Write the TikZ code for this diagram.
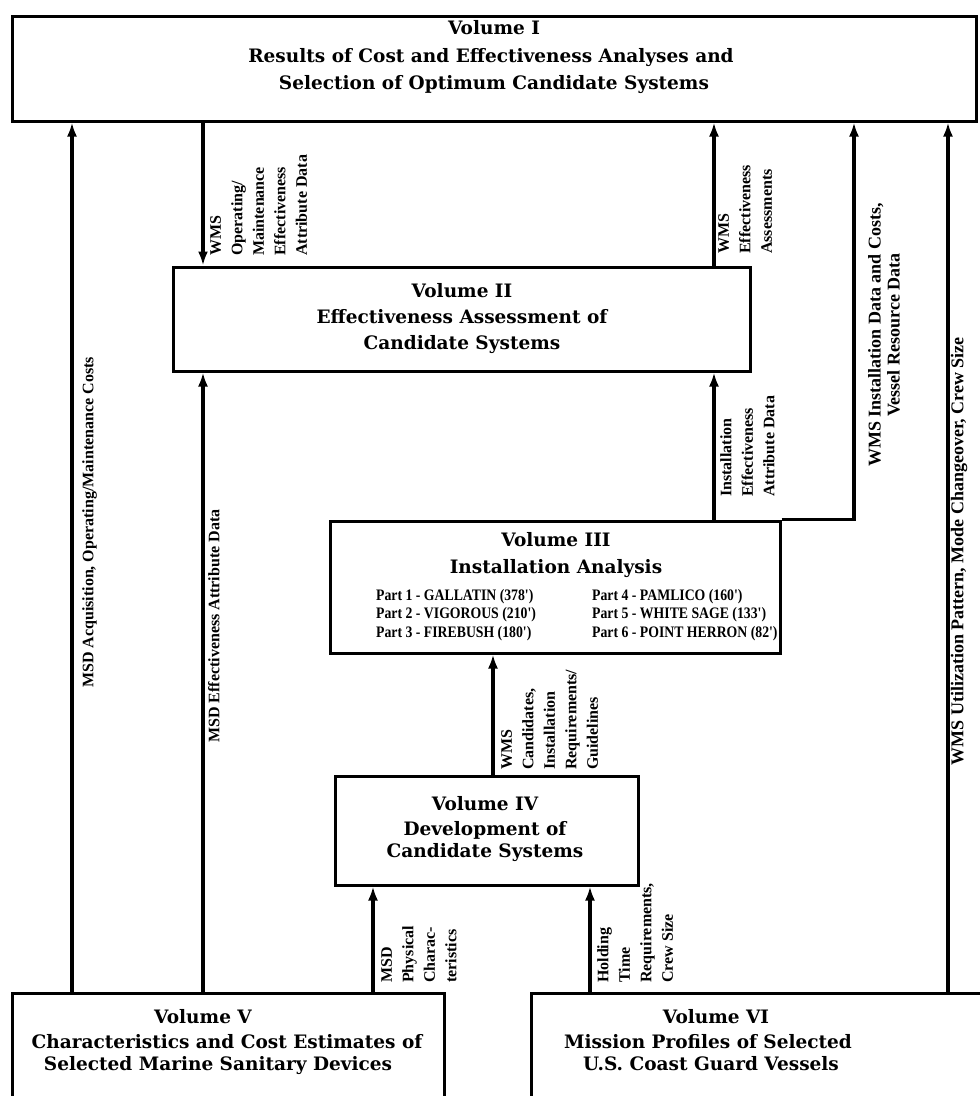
\documentclass[tikz,border=0pt]{standalone}
\usepackage{fontspec}
\setmainfont{DejaVu Serif}
\newfontfamily\labfont{Liberation Serif}
\newfontfamily\partfont{Liberation Serif}[FakeStretch=0.86]
\usetikzlibrary{arrows.meta}
\begin{document}
\begin{tikzpicture}[x=1pt,y=-1pt,
  box/.style={draw, line width=3pt, inner sep=0pt},
  title/.style={font=\bfseries\fontsize{18.5}{20}\selectfont, inner sep=0pt, anchor=base},
  flow/.style={line width=3.6pt, -{Latex[length=14pt,width=10pt]}},
  lab/.style={font=\labfont\bfseries\fontsize{16}{21.5}\selectfont, rotate=90, align=left, anchor=north west, inner sep=0pt},
  labc/.style={font=\labfont\bfseries\fontsize{18}{19}\selectfont, rotate=90, align=center, anchor=center, inner sep=0pt},
  part/.style={font=\partfont\bfseries\fontsize{16}{18}\selectfont, anchor=base west, inner sep=0pt}]
\useasboundingbox (0,0) rectangle (980,1096);
\clip (0,0) rectangle (980,1096);

% boxes
\node[box, minimum width=964pt, minimum height=105pt] (v1) at (494,68.5) {};
\node[box, minimum width=577pt, minimum height=104pt] (v2) at (461.5,319) {};
\node[box, minimum width=450pt, minimum height=132pt] (v3) at (555,587) {};
\node[box, minimum width=303pt, minimum height=109pt] (v4) at (486.5,830.5) {};
\node[box, minimum width=432pt, minimum height=127pt] (v5) at (228,1056.5) {};
\node[box, minimum width=469pt, minimum height=127pt] (v6) at (765.5,1056.5) {};

% texts
\node[title] (t1a) at (494,34) {Volume I};
\node[title] (t1b) at (491,62) {Results of Cost and Effectiveness Analyses and};
\node[title] (t1c) at (494,89) {Selection of Optimum Candidate Systems};

\node[title] (t2a) at (462,297) {Volume II};
\node[title] (t2b) at (462,323) {Effectiveness Assessment of};
\node[title] (t2c) at (462,349) {Candidate Systems};

\node[title] (t3a) at (556,546) {Volume III};
\node[title] (t3b) at (556,573) {Installation Analysis};
\node[part] (p1) at (376,600) {Part 1 - GALLATIN (378')};
\node[part] (p2) at (376,618) {Part 2 - VIGOROUS (210')};
\node[part] (p3) at (376,637) {Part 3 - FIREBUSH (180')};
\node[part] (p4) at (592,600) {Part 4 - PAMLICO (160')};
\node[part] (p5) at (592,618) {Part 5 - WHITE SAGE (133')};
\node[part] (p6) at (592,637) {Part 6 - POINT HERRON (82')};

\node[title] (t4a) at (485,810) {Volume IV};
\node[title] (t4b) at (485,835) {Development of};
\node[title] (t4c) at (485,857) {Candidate Systems};

\node[title] (t5a) at (203,1023) {Volume V};
\node[title] (t5b) at (227,1048) {Characteristics and Cost Estimates of};
\node[title] (t5c) at (218,1070) {Selected Marine Sanitary Devices};

\node[title] (t6a) at (716,1023) {Volume VI};
\node[title] (t6b) at (708,1048) {Mission Profiles of Selected};
\node[title] (t6c) at (711,1070) {U.S. Coast Guard Vessels};

% connector columns
\coordinate (xa) at (72,0);
\coordinate (xb) at (203,0);
\coordinate (xc) at (714,0);
\coordinate (xd) at (854,0);
\coordinate (xe) at (948,0);
\coordinate (xf) at (493,0);
\coordinate (xg) at (373,0);
\coordinate (xh) at (590,0);

\draw[flow] (v5.north -| xa) -- (v1.south -| xa);
\draw[flow] (v5.north -| xb) -- (v2.south -| xb);
\draw[flow] (v1.south -| xb) -- (v2.north -| xb);
\draw[flow] (v2.north -| xc) -- (v1.south -| xc);
\draw[flow] (v3.north -| xc) -- (v2.south -| xc);
\draw[flow] (v3.north east) -- (v3.north -| xd) -- (v1.south -| xd);
\draw[flow] (v6.north -| xe) -- (v1.south -| xe);
\draw[flow] (v4.north -| xf) -- (v3.south -| xf);
\draw[flow] (v5.north -| xg) -- (v4.south -| xg);
\draw[flow] (v6.north -| xh) -- (v4.south -| xh);

% labels
\node[lab] (la) at (82,688) {MSD Acquisition, Operating/Maintenance Costs};
\node[lab] (lb) at (208,743) {MSD Effectiveness Attribute Data};
\node[lab] (lc) at (210,256) {WMS\\Operating/\\Maintenance\\Effectiveness\\Attribute Data};
\node[lab] (ld) at (718,254) {WMS\\Effectiveness\\Assessments};
\node[lab] (le) at (720,497) {Installation\\Effectiveness\\Attribute Data};
\node[labc] (lf) at (884,335) {WMS Installation Data and Costs,\\Vessel Resource Data};
\node[labc, anchor=east] (lg) at (959,337) {WMS Utilization Pattern, Mode Changeover, Crew Size};
\node[lab] (lh) at (501,770) {WMS\\Candidates,\\Installation\\Requirements/\\Guidelines};
\node[lab] (li) at (381,983) {MSD\\Physical\\Charac-\\teristics};
\node[lab] (lj) at (597,983) {Holding\\Time\\Requirements,\\Crew Size};
\end{tikzpicture}
\end{document}
